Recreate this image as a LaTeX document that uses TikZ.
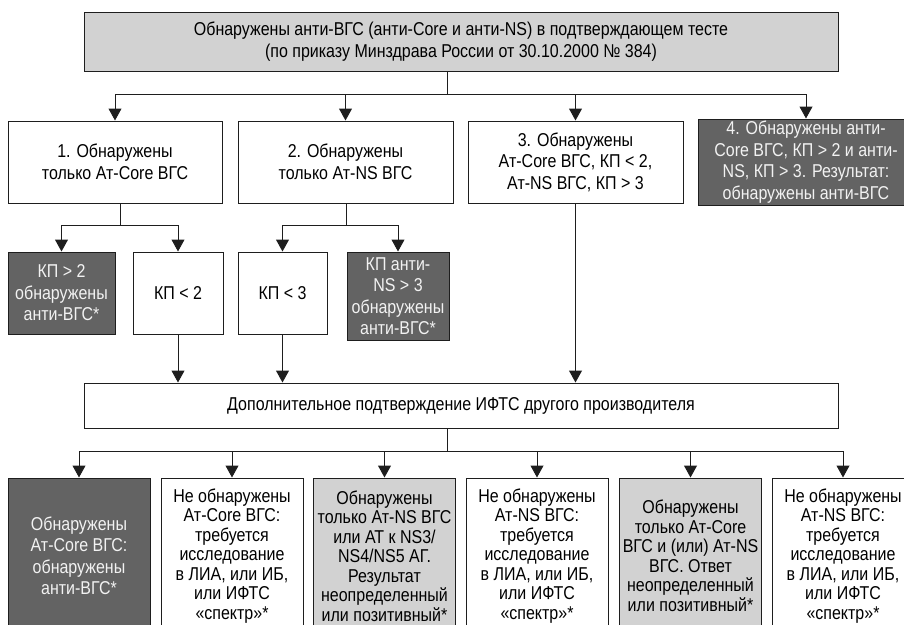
\documentclass[tikz,border=0pt]{standalone}
\usepackage{fontspec}
\setmainfont{Liberation Sans}[FakeStretch=0.86]
\usepackage{tikz}
\usetikzlibrary{arrows.meta}
\definecolor{darkfill}{RGB}{99,99,99}
\definecolor{lightfill}{RGB}{210,210,210}
\definecolor{darktext}{RGB}{242,242,242}
\definecolor{edgegrey}{RGB}{30,30,30}

\begin{document}
\begin{tikzpicture}[x=1pt, y=-1pt,
  basebox/.style={draw=edgegrey, line width=1pt, align=center, inner sep=2pt,
    font=\fontsize{18.6}{21.5}\selectfont},
  plainbox/.style={basebox, fill=white},
  greybox/.style={basebox, fill=lightfill},
  darkbox/.style={basebox, fill=darkfill, text=darktext},
  lowbox/.style={minimum width=142, minimum height=156},
  tightbox/.style={font=\fontsize{18.6}{19.5}\selectfont},
  conn/.style={line width=1pt, draw=edgegrey},
  conarrow/.style={conn, -{Triangle[width=13pt,length=12pt]}}]
  \path[use as bounding box, clip] (0,0) rectangle (904,624);

  % Top box
  \node[greybox, minimum width=754, minimum height=59] (top) at (461,41.5)
    {Обнаружены анти-ВГС (анти-Core и анти-NS) в подтверждающем тесте\\
     (по приказу Минздрава России от 30.10.2000 № 384)};

  % First row of cases
  \node[plainbox, minimum width=214, minimum height=82] (r1) at (115,162)
    {1. Обнаружены\\только Ат-Core ВГС};
  \node[plainbox, minimum width=215, minimum height=82] (r2) at (345.5,162)
    {2. Обнаружены\\только Ат-NS ВГС};
  \node[plainbox, minimum width=215, minimum height=82] (r3) at (575.5,162)
    {3. Обнаружены\\Ат-Core ВГС, КП < 2,\\Ат-NS ВГС, КП > 3};
  \node[darkbox, minimum width=216, minimum height=82] (r4) at (806,162)
    {4. Обнаружены анти-\\Core ВГС, КП > 2 и анти-\\NS, КП > 3. Результат:\\обнаружены анти-ВГС};

  % Sub-cases
  \node[darkbox, minimum width=107, minimum height=82] (s1) at (61.5,293)
    {КП > 2\\обнаружены\\анти-ВГС*};
  \node[plainbox, minimum width=90, minimum height=82] (s2) at (178,293)
    {КП < 2};
  \node[plainbox, minimum width=89, minimum height=82] (s3) at (282.5,293)
    {КП < 3};
  \node[darkbox, minimum width=102, minimum height=88] (s4) at (398,296)
    {КП анти-\\NS > 3\\обнаружены\\анти-ВГС*};

  % Additional confirmation
  \node[plainbox, minimum width=754, minimum height=45] (mid) at (461,405.5)
    {Дополнительное подтверждение ИФТС другого производителя};

  % Outcomes
  \node[darkbox, lowbox] (t1) at (79,556)
    {Обнаружены\\Ат-Core ВГС:\\обнаружены\\анти-ВГС*};
  \node[plainbox, lowbox, tightbox] (t2) at (232,556)
    {Не обнаружены\\Ат-Core ВГС:\\требуется\\исследование\\в ЛИА, или ИБ,\\или ИФТС\\«спектр»*};
  \node[greybox, lowbox, tightbox] (t3) at (384.5,556)
    {Обнаружены\\только Ат-NS ВГС\\или АТ к NS3/\\NS4/NS5 АГ.\\Результат\\неопределенный\\или позитивный*};
  \node[plainbox, lowbox, tightbox] (t4) at (537,556)
    {Не обнаружены\\Ат-NS ВГС:\\требуется\\исследование\\в ЛИА, или ИБ,\\или ИФТС\\«спектр»*};
  \node[greybox, lowbox, tightbox] (t5) at (690.5,556)
    {Обнаружены\\только Ат-Core\\ВГС и (или) Ат-NS\\ВГС. Ответ\\неопределенный\\или позитивный*};
  \node[plainbox, lowbox, tightbox] (t6) at (843,556)
    {Не обнаружены\\Ат-NS ВГС:\\требуется\\исследование\\в ЛИА, или ИБ,\\или ИФТС\\«спектр»*};

  % Junctions
  \coordinate (tj) at (447,94);
  \coordinate (j1) at (120,225);
  \coordinate (j2) at (346,225);
  \coordinate (bj) at (447,451);

  % Top to first row
  \draw[conn] (tj |- top.south) -- (tj);
  \draw[conn] (r1.north |- tj) -- (r4.north |- tj);
  \foreach \n in {r1,r2,r3,r4}
    \draw[conarrow] (\n.north |- tj) -- (\n.north);

  % First row to sub-cases
  \draw[conn] (j1 |- r1.south) -- (j1);
  \draw[conn] (s1.north |- j1) -- (s2.north |- j1);
  \draw[conn] (j2 |- r2.south) -- (j2);
  \draw[conn] (s3.north |- j2) -- (s4.north |- j2);
  \foreach \n in {s1,s2}
    \draw[conarrow] (\n.north |- j1) -- (\n.north);
  \foreach \n in {s3,s4}
    \draw[conarrow] (\n.north |- j2) -- (\n.north);

  % Into additional confirmation
  \foreach \n in {s2,s3,r3}
    \draw[conarrow] (\n.south) -- (\n.south |- mid.north);

  % Additional confirmation to outcomes
  \draw[conn] (bj |- mid.south) -- (bj);
  \draw[conn] (t1.north |- bj) -- (t6.north |- bj);
  \foreach \n in {t1,t2,t3,t4,t5,t6}
    \draw[conarrow] (\n.north |- bj) -- (\n.north);
\end{tikzpicture}
\end{document}
